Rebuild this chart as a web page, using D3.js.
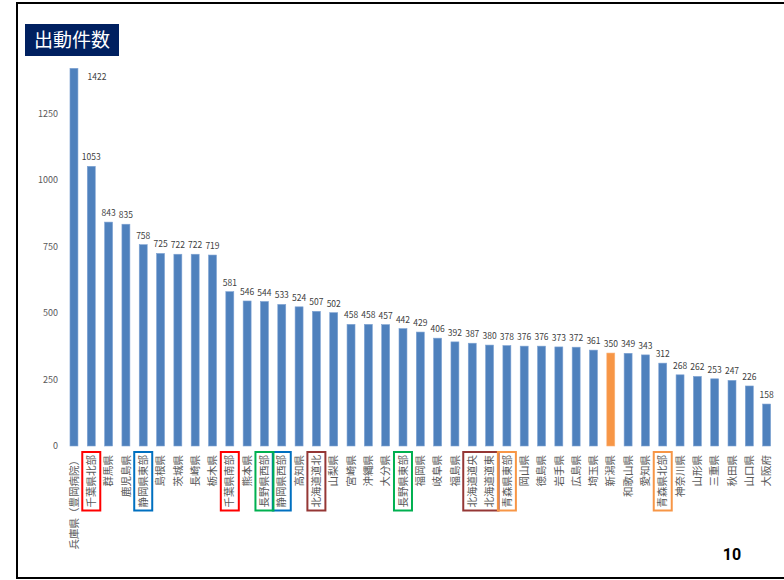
<!DOCTYPE html>
<html>
<head>
<meta charset="utf-8">
<script src="https://cdn.jsdelivr.net/npm/d3@7"></script>
<style>
body { margin: 0; background: #fff; }
svg { display: block; font-family: "Noto Sans CJK JP", "Noto Sans", sans-serif; }
.tick-label { font-size: 9px; fill: #595959; }
.value-label { font-size: 8.5px; fill: #404040; }
.cat-label { font-size: 10.5px; fill: #595959; }
</style>
</head>
<body>
<script>
var categories = ["兵庫県（豊岡病院）", "千葉県北部", "群馬県", "鹿児島県", "静岡県東部", "島根県", "茨城県", "長崎県", "栃木県",
    "千葉県南部", "熊本県", "長野県西部", "静岡県西部", "高知県", "北海道道北", "山梨県", "宮崎県", "沖縄県", "大分県",
    "長野県東部", "福岡県", "岐阜県", "福島県", "北海道道央", "北海道道東", "青森県東部", "岡山県", "徳島県", "岩手県",
    "広島県", "埼玉県", "新潟県", "和歌山県", "愛知県", "青森県北部", "神奈川県", "山形県", "三重県", "秋田県", "山口県", "大阪府"];
var values = [1422, 1053, 843, 835, 758, 725, 722, 722, 719,
    581, 546, 544, 533, 524, 507, 502, 458, 458, 457,
    442, 429, 406, 392, 387, 380, 378, 376, 376, 373,
    372, 361, 350, 349, 343, 312, 268, 262, 253, 247, 226, 158];
var highlighted = ["新潟県"];
var yTicks = [0, 250, 500, 750, 1000, 1250];

// boxes drawn around category labels: first / last category, colour
var boxes = [
    ["千葉県北部", "千葉県北部", "#ff0000"],
    ["千葉県南部", "千葉県南部", "#ff0000"],
    ["静岡県東部", "静岡県東部", "#0070c0"],
    ["静岡県西部", "静岡県西部", "#0070c0"],
    ["長野県西部", "長野県西部", "#00b050"],
    ["長野県東部", "長野県東部", "#00b050"],
    ["北海道道北", "北海道道北", "#953735"],
    ["北海道道央", "北海道道東", "#953735"],
    ["青森県東部", "青森県東部", "#f79646"],
    ["青森県北部", "青森県北部", "#f79646"]
];

var width = 784, height = 580;
var labelTop = 455, charH = 10.5;

var svg = d3.select("body").append("svg")
    .attr("width", width)
    .attr("height", height);

// frame
svg.append("rect")
    .attr("x", 17).attr("y", 3)
    .attr("width", 790).attr("height", 575)
    .attr("fill", "none")
    .attr("stroke", "#000")
    .attr("stroke-width", 2);

// title
svg.append("rect")
    .attr("x", 25).attr("y", 24)
    .attr("width", 94).attr("height", 32)
    .attr("fill", "#002060");
svg.append("text")
    .text("出動件数")
    .attr("x", 72).attr("y", 47)
    .attr("text-anchor", "middle")
    .attr("fill", "#fff")
    .style("font-size", "19px");

var x = d3.scaleBand()
    .domain(categories)
    .range([65.3, 775.3])
    .paddingInner(0.54)
    .paddingOuter(0.27);

var y = d3.scaleLinear()
    .domain([0, 1250])
    .range([446, 114]);

svg.append("g").selectAll("text")
    .data(yTicks)
    .enter().append("text")
    .attr("class", "tick-label")
    .attr("x", 58)
    .attr("y", function(d) { return y(d) + 3; })
    .attr("text-anchor", "end")
    .text(function(d) { return d; });

svg.append("g").selectAll("rect")
    .data(categories)
    .enter().append("rect")
    .attr("x", function(d) { return x(d); })
    .attr("y", function(d, i) { return y(values[i]); })
    .attr("width", x.bandwidth())
    .attr("height", function(d, i) { return y(0) - y(values[i]); })
    .attr("fill", function(d) { return highlighted.indexOf(d) >= 0 ? "#f79646" : "#4f81bd"; })
    .attr("stroke", function(d) { return highlighted.indexOf(d) >= 0 ? "#fab37a" : "#7fa3d3"; })
    .attr("stroke-width", 0.6);

svg.append("g").selectAll("text")
    .data(categories)
    .enter().append("text")
    .attr("class", "value-label")
    .attr("text-anchor", "middle")
    .attr("x", function(d, i) {
        var cx = x(d) + x.bandwidth() / 2;
        return y(values[i]) - 6 < 80 ? cx + 23 : cx;
    })
    .attr("y", function(d, i) { return Math.max(80, y(values[i]) - 6); })
    .text(function(d, i) { return values[i]; });

// category labels, rotated -90 and hanging from the axis
svg.append("g").selectAll("text")
    .data(categories)
    .enter().append("text")
    .attr("class", "cat-label")
    .attr("text-anchor", "end")
    .attr("dy", "0.35em")
    .attr("transform", function(d) {
        return "translate(" + (x(d) + x.bandwidth() / 2) + "," + labelTop + ") rotate(-90)";
    })
    .text(function(d) { return d; });

svg.append("g").selectAll("rect")
    .data(boxes)
    .enter().append("rect")
    .attr("x", function(b) { return x(b[0]) + x.bandwidth() / 2 - 9; })
    .attr("y", labelTop - 3)
    .attr("width", function(b) { return x(b[1]) - x(b[0]) + 18; })
    .attr("height", function(b) { return Math.max(b[0].length, b[1].length) * charH + 6; })
    .attr("fill", "none")
    .attr("stroke", function(b) { return b[2]; })
    .attr("stroke-width", 2);

svg.append("text")
    .text("10")
    .attr("x", 732).attr("y", 560)
    .attr("text-anchor", "middle")
    .style("font-size", "16px")
    .style("font-weight", "bold")
    .style("font-family", "Roboto, sans-serif");
</script>
</body>
</html>
